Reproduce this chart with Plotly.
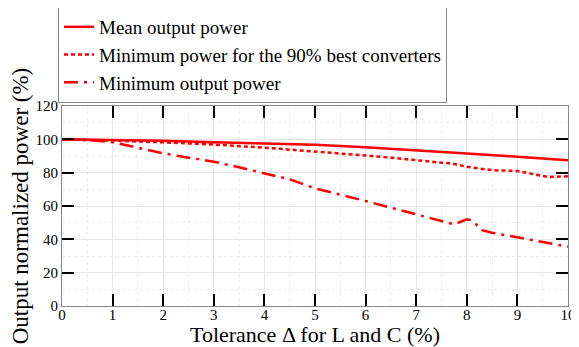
import plotly.graph_objects as go

x_mean = [0, 1, 2, 3, 4, 5, 6, 7, 8, 9, 9.6, 10]
mean_power = [100, 99.6, 99.1, 98.3, 97.6, 96.8, 95.3, 93.6, 91.5, 89.6, 88.2, 87.5]

x_p90 = [0, 0.5, 1, 2, 3, 4, 4.6, 5, 5.5, 6, 6.5, 7, 7.5, 7.7, 8, 8.5, 9, 9.6, 10]
p90_power = [100, 99.8, 99.2, 98.2, 96.9, 95.0, 93.6, 92.6, 91.8, 90.3, 89.0, 87.3, 86.0, 85.6, 83.5, 81.5, 81.0, 77.4, 77.8]

x_min = [0, 0.5, 1, 1.5, 2, 2.5, 3, 3.5, 4, 4.5, 5, 5.5, 6, 6.5, 7, 7.5, 7.75, 8.0, 8.1, 8.3, 8.5, 9, 9.5, 10]
min_power = [100, 99.6, 98.3, 95.0, 91.6, 89.0, 86.6, 83.2, 79.6, 76.0, 70.6, 67.0, 63.0, 59.0, 55.0, 51.4, 49.0, 52.0, 51.5, 45.5, 44.0, 41.2, 38.6, 35.6]

red = "#ff0000"
fig = go.Figure()
fig.add_trace(go.Scatter(x=x_mean, y=mean_power, mode="lines", name="Mean output power",
                         line=dict(color=red, width=2.5)))
fig.add_trace(go.Scatter(x=x_p90, y=p90_power, mode="lines", name="Minimum power for the 90% best converters",
                         line=dict(color=red, width=2.5, dash="4px,3px")))
fig.add_trace(go.Scatter(x=x_min, y=min_power, mode="lines", name="Minimum output power",
                         line=dict(color=red, width=2.5, dash="14px,6px,3px,6px")))

font = "Liberation Serif"
axis_common = dict(
    showline=True, linecolor="#888888", linewidth=1, mirror="ticks",
    ticks="inside", ticklen=12, tickcolor="black", tickwidth=1.5,
    showgrid=True, gridcolor="#e6e6e6", gridwidth=1, zeroline=False,
    tickfont=dict(family=font, size=15, color="black"),
    automargin=False,
)
fig.update_xaxes(range=[0, 10], tickvals=list(range(0, 11)), ticklabelstandoff=-5,
                 title=dict(text="Tolerance Δ for L and C (%)", font=dict(family=font, size=22, color="black")),
                 minor=dict(dtick=0.5, showgrid=True, gridcolor="#ececec", griddash="dot"),
                 **axis_common)
fig.update_yaxes(range=[0, 120], tickvals=list(range(0, 121, 20)),
                 title=dict(text="Output normalized power (%)", font=dict(family=font, size=23, color="black")),
                 minor=dict(dtick=10, showgrid=True, gridcolor="#ececec", griddash="dot"),
                 **axis_common)

# the page body adds an 8px offset, so the figure is 8px smaller and margins shifted
fig.update_layout(
    width=571, height=339,
    margin=dict(l=54, r=11, t=98, b=41, autoexpand=False),
    plot_bgcolor="white", paper_bgcolor="white",
    font=dict(family=font, color="black"),
    legend=dict(x=-4/506, y=1 + 99/200, xanchor="left", yanchor="top",
                bordercolor="#888888", borderwidth=1, bgcolor="white",
                font=dict(family=font, size=19, color="black"),
                tracegroupgap=0, itemwidth=30),
    showlegend=True,
)
fig.write_html("out.html")
